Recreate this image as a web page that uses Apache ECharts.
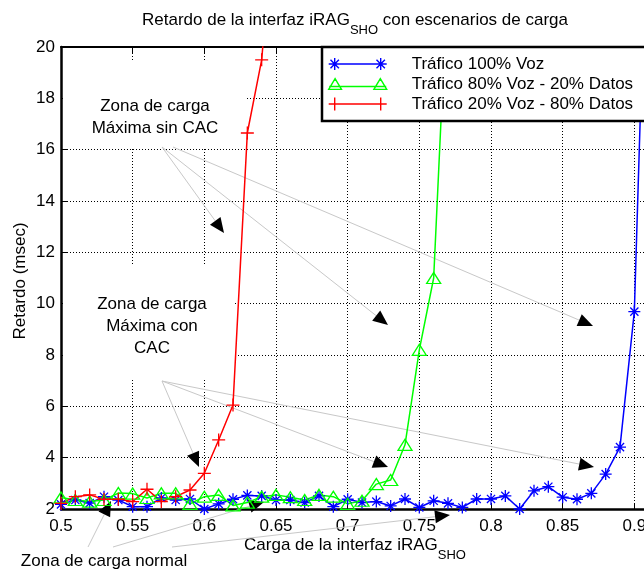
<!DOCTYPE html>
<html>
<head>
<meta charset="UTF-8">
<title>Retardo de la interfaz iRAG</title>
<script src="https://cdn.jsdelivr.net/npm/echarts@6/dist/echarts.min.js"></script>
<style>
  html, body { margin: 0; padding: 0; background: #fff; }
  #main { width: 644px; height: 571px; }
</style>
</head>
<body>
<div id="main"></div>
<script>
// carga de la interfaz (eje x)
var carga = [0.50, 0.51, 0.52, 0.53, 0.54, 0.55, 0.56, 0.57, 0.58, 0.59,
             0.60, 0.61, 0.62, 0.63, 0.64, 0.65, 0.66, 0.67, 0.68, 0.69,
             0.70, 0.71, 0.72, 0.73, 0.74, 0.75, 0.76, 0.77, 0.78, 0.79,
             0.80, 0.81, 0.82, 0.83, 0.84, 0.85, 0.86, 0.87, 0.88, 0.89,
             0.90, 0.91];
// retardo (msec) por escenario
var voz100 = [2.18, 2.35, 2.23, 2.48, 2.35, 2.09, 2.09, 2.43, 2.35, 2.39,
              2.00, 2.20, 2.38, 2.53, 2.51, 2.35, 2.35, 2.25, 2.51, 2.09,
              2.38, 2.25, 2.29, 2.12, 2.39, 2.06, 2.32, 2.22, 2.06, 2.39,
              2.39, 2.51, 2.00, 2.71, 2.87, 2.46, 2.38, 2.61, 3.36, 4.41,
              9.69, 28];
var voz80 = [2.45, 2.35, 2.29, 2.35, 2.62, 2.60, 2.43, 2.61, 2.61, 2.20,
             2.48, 2.55, 2.14, 2.25, 2.48, 2.55, 2.46, 2.35, 2.55, 2.48,
             2.20, 2.32, 2.97, 3.13, 4.50, 8.20, 11.0, 23];
var voz20 = [2.22, 2.48, 2.55, 2.38, 2.38, 2.29, 2.77, 2.29, 2.48, 2.74,
             3.39, 4.69, 6.05, 16.65, 19.5, 26];
var nombres = ['Tráfico 100% Voz', 'Tráfico 80% Voz - 20% Datos', 'Tráfico 20% Voz - 80% Datos'];

var FUENTE = '"Liberation Sans", Arial, Helvetica, sans-serif';
var myChart = echarts.init(document.getElementById('main'));

function pares(vals) {
  return vals.map(function (v, i) { return [carga[i], v]; });
}

// medir texto para poner subindices a mano
var ctx = document.createElement('canvas').getContext('2d');
function ancho(txt, size) {
  ctx.font = size + 'px ' + FUENTE;
  return ctx.measureText(txt).width;
}
function textoSub(cx, cy, base, sub, resto) {
  var w1 = ancho(base, 17), w2 = ancho(sub, 13), w3 = ancho(resto, 17);
  var x0 = cx - (w1 + w2 + w3) / 2;
  var st = function (t, s) { return { text: t, fontSize: s, fontFamily: FUENTE, fill: '#000', align: 'left', verticalAlign: 'middle' }; };
  var out = [
    { type: 'text', x: x0, y: cy, style: st(base, 17) },
    { type: 'text', x: x0 + w1, y: cy + 10, style: st(sub, 13) }
  ];
  if (resto) out.push({ type: 'text', x: x0 + w1 + w2, y: cy, style: st(resto, 17) });
  return out;
}

function texto(x, y, t) {
  return { type: 'text', x: x, y: y, z: 1.5,
    style: { text: t, fontSize: 17, fontFamily: FUENTE, fill: '#000', align: 'center', verticalAlign: 'middle', lineHeight: 22 } };
}

// flechas de anotacion (linea gris + punta negra)
function flecha(x0, y0, x1, y1) {
  var dx = x1 - x0, dy = y1 - y0, L = Math.sqrt(dx * dx + dy * dy);
  var ux = dx / L, uy = dy / L, len = 15, half = 6.5;
  var bx = x1 - ux * len, by = y1 - uy * len;
  return [
    { type: 'line', z: 1.5, shape: { x1: x0, y1: y0, x2: bx, y2: by }, style: { stroke: '#c8c8c8', lineWidth: 1 } },
    { type: 'polygon', z: 1.5, shape: { points: [[x1, y1], [bx - uy * half, by + ux * half], [bx + uy * half, by - ux * half]] }, style: { fill: '#000' } }
  ];
}
var flechas = [
  [162, 147, 224, 233], [162, 147, 388, 325], [173, 147, 593, 326],
  [162, 381, 199, 467], [162, 381, 388, 467], [162, 381, 594, 467],
  [88, 547, 111, 501], [113, 547, 264, 502], [172, 547, 450, 515]
];

var graficos = [
  { type: 'rect', z: 1, shape: { x: 63, y: 62, width: 183, height: 85 }, style: { fill: '#fff' } },
  { type: 'rect', z: 1, shape: { x: 63, y: 265, width: 172, height: 115 }, style: { fill: '#fff' } },
  texto(155, 117, 'Zona de carga\nMáxima sin CAC'),
  texto(152, 326, 'Zona de carga\nMáxima con\nCAC'),
  texto(104, 561, 'Zona de carga normal'),
  { type: 'text', x: 20, y: 281, rotation: Math.PI / 2,
    style: { text: 'Retardo (msec)', fontSize: 17, fontFamily: FUENTE, fill: '#000', align: 'center', verticalAlign: 'middle' } }
];
flechas.forEach(function (f) { graficos = graficos.concat(flecha(f[0], f[1], f[2], f[3])); });
graficos = graficos.concat(textoSub(355, 20, 'Retardo de la interfaz iRAG', 'SHO', ' con escenarios de carga'));
graficos = graficos.concat(textoSub(355, 545, 'Carga de la interfaz iRAG', 'SHO', ''));

var simbolos = {
  estrella: 'path://M5,0L5,10M0,5L10,5M1.6,1.6L8.4,8.4M8.4,1.6L1.6,8.4',
  triangulo: 'path://M5,0L10,9L0,9Z',
  cruz: 'path://M5,0L5,10M0,5L10,5'
};
// iconos de leyenda estilo matlab: linea con marcador en cada extremo (caja 58x13)
var iconos = {
  estrella: 'path://M0,6.5L58,6.5M6,0.5L6,12.5M0,6.5L12,6.5M1.8,2.3L10.2,10.7M10.2,2.3L1.8,10.7' +
            'M52,0.5L52,12.5M46,6.5L58,6.5M47.8,2.3L56.2,10.7M56.2,2.3L47.8,10.7M0,0L0,0M58,13L58,13',
  triangulo: 'path://M0,9L58,9M6,1L12.5,12L-0.5,12ZM52,1L58.5,12L45.5,12ZM0,0L0,0M58,13L58,13',
  cruz: 'path://M0,6.5L58,6.5M6,0L6,13M0,6.5L12,6.5M52,0L52,13M46,6.5L58,6.5'
};

function serie(nombre, vals, color, simbolo, tam) {
  return {
    name: nombre, type: 'line', data: pares(vals),
    symbol: simbolo, symbolSize: tam,
    itemStyle: { color: 'rgba(0,0,0,0)', borderColor: color, borderWidth: 1.3 },
    lineStyle: { color: color, width: 1.5 },
    emphasis: { disabled: true }
  };
}

var ejeComun = {
  axisLine: { lineStyle: { color: '#000', width: 2.5 } },
  axisTick: { inside: true, length: 6, lineStyle: { color: '#000', width: 1 } }
};

myChart.setOption({
  animation: false,
  backgroundColor: '#fff',
  grid: { left: 61, top: 47, width: 645, height: 462, outerBoundsMode: 'none', containLabel: false },
  legend: {
    orient: 'vertical', left: 322, top: 47,
    padding: [7, 80, 7, 6], itemWidth: 58, itemHeight: 13, itemGap: 0,
    backgroundColor: '#fff', borderColor: '#000', borderWidth: 2.5, borderRadius: 0,
    itemStyle: { borderWidth: 1.4 },
    textStyle: { fontSize: 17, color: '#000', fontFamily: FUENTE, lineHeight: 20, padding: [0, 0, 0, 20] },
    data: [
      { name: nombres[0], icon: iconos.estrella },
      { name: nombres[1], icon: iconos.triangulo },
      { name: nombres[2], icon: iconos.cruz }
    ]
  },
  xAxis: [
    { type: 'value', min: 0.5, max: 0.95, interval: 0.05, position: 'bottom',
      axisLine: ejeComun.axisLine, axisTick: ejeComun.axisTick,
      axisLabel: { color: '#000', fontSize: 17, fontFamily: FUENTE, margin: 9 },
      splitLine: { show: true, lineStyle: { color: '#000', width: 1, type: [1, 2] } } },
    { type: 'value', min: 0.5, max: 0.95, interval: 0.05, position: 'top',
      axisLine: { lineStyle: { color: '#000', width: 2 } }, axisTick: ejeComun.axisTick,
      axisLabel: { show: false }, splitLine: { show: false } }
  ],
  yAxis: [
    { type: 'value', min: 2, max: 20, interval: 2, position: 'left',
      axisLine: ejeComun.axisLine, axisTick: ejeComun.axisTick,
      axisLabel: { color: '#000', fontSize: 17, fontFamily: FUENTE, margin: 6 },
      splitLine: { show: true, lineStyle: { color: '#000', width: 1, type: [1, 2] } } },
    { type: 'value', min: 2, max: 20, interval: 2, position: 'right',
      axisLine: ejeComun.axisLine, axisTick: ejeComun.axisTick,
      axisLabel: { show: false }, splitLine: { show: false } }
  ],
  series: [
    serie(nombres[0], voz100, '#0000ff', simbolos.estrella, 12),
    serie(nombres[1], voz80, '#00ff00', simbolos.triangulo, [14, 11]),
    serie(nombres[2], voz20, '#ff0000', simbolos.cruz, 13)
  ],
  graphic: graficos
});
</script>
</body>
</html>
